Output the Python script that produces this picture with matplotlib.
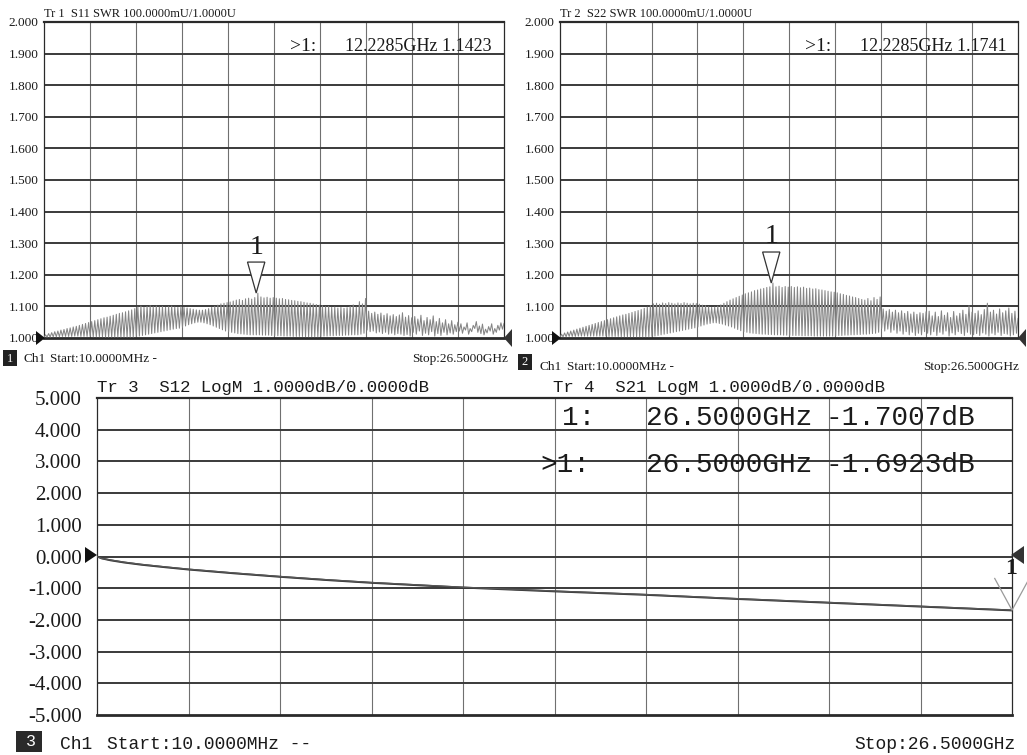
import numpy as np
import matplotlib
matplotlib.use("Agg")
import matplotlib.pyplot as plt
from matplotlib.patches import Polygon, Rectangle

# ---------------- data ----------------
F_START, F_STOP = 0.01, 26.5  # GHz

# S11 SWR ripple: trough / peak value of each ripple cycle (15 per division)
s11_troughs = [
    1.002, 1.003, 1.003, 1.004, 1.004, 1.004, 1.005, 1.005, 1.005, 1.005, 1.006, 1.006, 1.005, 1.005, 1.005,
    1.005, 1.004, 1.004, 1.004, 1.004, 1.003, 1.003, 1.003, 1.003, 1.003, 1.003, 1.003, 1.003, 1.003, 1.003,
    1.004, 1.006, 1.008, 1.010, 1.012, 1.014, 1.016, 1.018, 1.020, 1.022, 1.024, 1.026, 1.028, 1.030, 1.031,
    1.034, 1.038, 1.042, 1.045, 1.048, 1.050, 1.050, 1.048, 1.045, 1.042, 1.038, 1.034, 1.030, 1.026, 1.022,
    1.020, 1.018, 1.016, 1.014, 1.013, 1.012, 1.011, 1.010, 1.010, 1.010, 1.010, 1.009, 1.009, 1.009, 1.008,
    1.008, 1.007, 1.007, 1.006, 1.006, 1.006, 1.005, 1.005, 1.005, 1.005, 1.004, 1.004, 1.004, 1.004, 1.004,
    1.005, 1.006, 1.006, 1.007, 1.007, 1.008, 1.008, 1.008, 1.009, 1.009, 1.010, 1.010, 1.010, 1.012, 1.015,
    1.025, 1.020, 1.022, 1.016, 1.019, 1.014, 1.018, 1.012, 1.015, 1.010, 1.014, 1.012, 1.008, 1.011, 1.006,
    1.018, 1.012, 1.022, 1.008, 1.015, 1.010, 1.020, 1.006, 1.014, 1.008, 1.018, 1.010, 1.016, 1.012, 1.020,
    1.022, 1.015, 1.025, 1.012, 1.020, 1.030, 1.018, 1.014, 1.010, 1.016, 1.022, 1.012, 1.018, 1.025, 1.028,
]
s11_peaks = [
    1.010, 1.014, 1.017, 1.020, 1.022, 1.025, 1.027, 1.030, 1.032, 1.035, 1.037, 1.040, 1.043, 1.046, 1.049,
    1.052, 1.055, 1.058, 1.061, 1.064, 1.066, 1.069, 1.072, 1.075, 1.078, 1.080, 1.083, 1.086, 1.089, 1.093,
    1.098, 1.101, 1.097, 1.100, 1.102, 1.099, 1.101, 1.098, 1.100, 1.097, 1.099, 1.101, 1.098, 1.097, 1.099,
    1.097, 1.095, 1.093, 1.091, 1.089, 1.088, 1.088, 1.090, 1.093, 1.097, 1.100, 1.104, 1.108, 1.110, 1.112,
    1.114, 1.117, 1.120, 1.122, 1.119, 1.124, 1.126, 1.123, 1.128, 1.142, 1.130, 1.127, 1.129, 1.126, 1.128,
    1.126, 1.124, 1.125, 1.122, 1.121, 1.119, 1.118, 1.116, 1.115, 1.113, 1.111, 1.110, 1.108, 1.106, 1.104,
    1.102, 1.099, 1.100, 1.097, 1.098, 1.095, 1.097, 1.094, 1.096, 1.100, 1.105, 1.098, 1.115, 1.108, 1.125,
    1.085, 1.078, 1.082, 1.075, 1.079, 1.072, 1.077, 1.070, 1.074, 1.068, 1.073, 1.080, 1.066, 1.071, 1.064,
    1.068, 1.060, 1.072, 1.055, 1.065, 1.058, 1.070, 1.052, 1.062, 1.048, 1.058, 1.045, 1.055, 1.042, 1.050,
    1.045, 1.035, 1.048, 1.030, 1.040, 1.052, 1.038, 1.044, 1.028, 1.036, 1.045, 1.030, 1.040, 1.048, 1.046,
]

# S22 SWR ripple
s22_troughs = [
    1.003, 1.004, 1.004, 1.005, 1.005, 1.005, 1.006, 1.006, 1.006, 1.006, 1.006, 1.006, 1.006, 1.006, 1.006,
    1.006, 1.005, 1.005, 1.005, 1.005, 1.004, 1.004, 1.004, 1.004, 1.004, 1.004, 1.004, 1.004, 1.004, 1.004,
    1.005, 1.006, 1.008, 1.010, 1.012, 1.014, 1.016, 1.018, 1.020, 1.022, 1.024, 1.026, 1.028, 1.030, 1.032,
    1.035, 1.038, 1.041, 1.044, 1.046, 1.048, 1.048, 1.046, 1.044, 1.041, 1.038, 1.035, 1.031, 1.027, 1.023,
    1.020, 1.018, 1.016, 1.015, 1.014, 1.013, 1.012, 1.012, 1.011, 1.011, 1.010, 1.010, 1.010, 1.009, 1.009,
    1.009, 1.008, 1.008, 1.008, 1.007, 1.007, 1.007, 1.007, 1.006, 1.006, 1.006, 1.006, 1.006, 1.006, 1.006,
    1.007, 1.008, 1.008, 1.009, 1.009, 1.010, 1.010, 1.011, 1.011, 1.012, 1.012, 1.013, 1.014, 1.015, 1.018,
    1.030, 1.022, 1.028, 1.018, 1.025, 1.015, 1.022, 1.012, 1.020, 1.010, 1.018, 1.008, 1.015, 1.010, 1.020,
    1.015, 1.010, 1.020, 1.008, 1.018, 1.012, 1.022, 1.006, 1.016, 1.010, 1.020, 1.014, 1.008, 1.018, 1.012,
    1.010, 1.014, 1.008, 1.016, 1.012, 1.006, 1.015, 1.010, 1.018, 1.008, 1.014, 1.012, 1.006, 1.010, 1.015,
]
s22_peaks = [
    1.012, 1.016, 1.019, 1.022, 1.025, 1.028, 1.031, 1.034, 1.037, 1.040, 1.043, 1.046, 1.049, 1.052, 1.055,
    1.058, 1.061, 1.064, 1.067, 1.070, 1.073, 1.075, 1.078, 1.081, 1.084, 1.087, 1.090, 1.094, 1.098, 1.103,
    1.108, 1.110, 1.107, 1.111, 1.109, 1.112, 1.110, 1.108, 1.111, 1.109, 1.112, 1.110, 1.108, 1.110, 1.109,
    1.107, 1.104, 1.102, 1.099, 1.097, 1.098, 1.101, 1.105, 1.110, 1.115, 1.120, 1.124, 1.128, 1.132, 1.136,
    1.140, 1.143, 1.146, 1.150, 1.152, 1.155, 1.157, 1.160, 1.162, 1.174, 1.162, 1.164, 1.160, 1.163, 1.161,
    1.163, 1.160, 1.162, 1.159, 1.161, 1.157, 1.158, 1.155, 1.156, 1.153, 1.152, 1.150, 1.148, 1.146, 1.145,
    1.143, 1.140, 1.138, 1.135, 1.133, 1.130, 1.128, 1.125, 1.122, 1.120, 1.125, 1.118, 1.128, 1.122, 1.130,
    1.092, 1.085, 1.090, 1.082, 1.088, 1.080, 1.086, 1.078, 1.084, 1.076, 1.082, 1.075, 1.080, 1.078, 1.083,
    1.085, 1.070, 1.082, 1.068, 1.086, 1.072, 1.080, 1.065, 1.084, 1.070, 1.078, 1.088, 1.075, 1.102, 1.082,
    1.078, 1.086, 1.074, 1.090, 1.110, 1.082, 1.088, 1.076, 1.092, 1.080, 1.086, 1.095, 1.078, 1.085, 1.062,
]

# transmission traces (dB)
loss_freq = [0.01, 0.15, 0.4, 0.8, 1.3, 2.0, 2.65, 3.97, 5.3, 6.62, 7.95, 10.6, 13.25, 15.9, 18.55, 21.2, 23.85, 26.5]
s12_db = [0.0, -0.06, -0.12, -0.19, -0.26, -0.34, -0.41, -0.53, -0.64, -0.74, -0.83, -0.98, -1.10, -1.21, -1.34, -1.46, -1.58, -1.7007]
s21_db = [0.0, -0.06, -0.11, -0.18, -0.25, -0.33, -0.40, -0.52, -0.63, -0.73, -0.82, -0.97, -1.09, -1.20, -1.33, -1.45, -1.57, -1.6923]

# markers
mkr_swr_freq = 12.2285
s11_mkr_val = 1.1423
s22_mkr_val = 1.1741
mkr_loss_freq = 26.5
s12_mkr_val = -1.7007
s21_mkr_val = -1.6923

swr_ticks = [1.0, 1.1, 1.2, 1.3, 1.4, 1.5, 1.6, 1.7, 1.8, 1.9, 2.0]
db_ticks = [-5.0, -4.0, -3.0, -2.0, -1.0, 0.0, 1.0, 2.0, 3.0, 4.0, 5.0]

# ---------------- figure ----------------
W, H = 1027, 755
fig = plt.figure(figsize=(W / 100, H / 100), dpi=100)
fig.patch.set_facecolor("white")

SERIF = "Liberation Serif"
MONO = "Liberation Mono"


def fx(x):
    return x / W


def fy(y):
    return 1 - y / H


def add_axes_px(x0, y0, x1, y1):
    return fig.add_axes([fx(x0), fy(y1), (x1 - x0) / W, (y1 - y0) / H])


def ftext(x, y, s, size, family=SERIF, ha="left", va="baseline", color="#1a1a1a", **kw):
    fig.text(fx(x), fy(y), s, fontsize=size, family=family, ha=ha, va=va, color=color, **kw)


def fpoly(pts, fc, ec="none", lw=1.0):
    p = Polygon([(fx(a), fy(b)) for a, b in pts], closed=True, transform=fig.transFigure,
                facecolor=fc, edgecolor=ec, lw=lw)
    fig.patches.append(p)


def style(ax, ymin, ymax, yticks, fmt_family, fsize, pad):
    xt = np.linspace(F_START, F_STOP, 11)
    ax.set_xlim(F_START, F_STOP)
    ax.set_ylim(ymin, ymax)
    ax.set_xticks(xt)
    ax.set_xticklabels([])
    ax.set_yticks(yticks)
    ax.set_yticklabels([f"{v:.3f}" for v in yticks], family=fmt_family, fontsize=fsize, color="#1a1a1a")
    ax.tick_params(axis="both", length=0)
    ax.tick_params(axis="y", pad=pad)
    for x in xt[1:-1]:
        ax.axvline(x, color="#707070", lw=0.8, zorder=1)
    for y in yticks[1:-1]:
        ax.axhline(y, color="#3a3a3a", lw=1.4, zorder=1)
    ax.spines["top"].set_linewidth(1.6)
    ax.spines["bottom"].set_linewidth(2.0)
    ax.spines["left"].set_linewidth(0.9)
    ax.spines["right"].set_linewidth(0.9)
    for s in ax.spines.values():
        s.set_color("#2a2a2a")


def zigzag(troughs, peaks):
    vals = np.empty(2 * len(peaks))
    vals[0::2] = troughs
    vals[1::2] = peaks
    freqs = np.linspace(F_START, F_STOP, len(vals))
    return freqs, vals


def swr_marker(ax, f, v, hw=0.50, h=0.098):
    tri = Polygon([(f - hw, v + h), (f + hw, v + h), (f, v)], closed=True,
                  facecolor="white", edgecolor="#333333", lw=0.9, zorder=5)
    ax.add_patch(tri)
    ax.text(f, v + h + 0.008, "1", ha="center", va="bottom", fontsize=20, family=SERIF,
            color="#1a1a1a", zorder=6)


# ---- top-left: S11 SWR ----
ax1 = add_axes_px(44, 22, 504, 338)
style(ax1, 1.0, 2.0, swr_ticks, SERIF, 9.5, 4)
f, v = zigzag(s11_troughs, s11_peaks)
ax1.plot(f, v, color="#858585", lw=0.75, zorder=3)
swr_marker(ax1, mkr_swr_freq, s11_mkr_val)

# ---- top-right: S22 SWR ----
ax2 = add_axes_px(560, 22, 1018, 338)
style(ax2, 1.0, 2.0, swr_ticks, SERIF, 9.5, 4)
f, v = zigzag(s22_troughs, s22_peaks)
ax2.plot(f, v, color="#858585", lw=0.75, zorder=3)
swr_marker(ax2, mkr_swr_freq, s22_mkr_val)

# ---- bottom: S12 / S21 LogM ----
ax3 = add_axes_px(97, 398, 1012, 715)
style(ax3, -5.0, 5.0, db_ticks, SERIF, 15, 11)
ax3.plot(loss_freq, s12_db, color="#333333", lw=1.4, zorder=3)
ax3.plot(loss_freq, s21_db, color="#555555", lw=1.0, zorder=3)
# marker V at stop frequency
ax3.plot([mkr_loss_freq - 0.5, mkr_loss_freq, mkr_loss_freq + 0.45],
         [s21_mkr_val + 1.0, s21_mkr_val, s21_mkr_val + 0.9],
         color="#9a9a9a", lw=0.9, clip_on=False, zorder=5)

# ---------------- annotations ----------------
# headers
ftext(44, 17, "Tr 1  S11 SWR 100.0000mU/1.0000U", 9)
ftext(560, 17, "Tr 2  S22 SWR 100.0000mU/1.0000U", 9)
ftext(97, 392, "Tr 3  S12 LogM 1.0000dB/0.0000dB", 12.5, family=MONO)
ftext(553, 392, "Tr 4  S21 LogM 1.0000dB/0.0000dB", 12.5, family=MONO)

# marker readouts (top)
ftext(290, 51, ">1:", 14)
ftext(345, 51, f"{mkr_swr_freq:.4f}GHz {s11_mkr_val:.4f}", 13)
ftext(805, 51, ">1:", 14)
ftext(860, 51, f"{mkr_swr_freq:.4f}GHz {s22_mkr_val:.4f}", 13)

# marker readouts (bottom)
ftext(562, 425, "1:", 20, family=MONO)
ftext(646, 425, f"{mkr_loss_freq:.4f}GHz", 20, family=MONO)
ftext(826, 425, f"{s12_mkr_val:.4f}dB", 20, family=MONO)
ftext(540, 472, ">1:", 20, family=MONO)
ftext(646, 472, f"{mkr_loss_freq:.4f}GHz", 20, family=MONO)
ftext(826, 472, f"{s21_mkr_val:.4f}dB", 20, family=MONO)

# footers
fig.patches.append(Rectangle((fx(3), fy(366)), 14 / W, 16 / H, transform=fig.transFigure,
                             facecolor="#222222", edgecolor="none"))
ftext(10, 359, "1", 9, ha="center", va="center", color="white")
ftext(23, 362, "Ch1", 9.5)
ftext(50, 362, "Start:10.0000MHz -", 9.5)
ftext(508, 362, "Stop:26.5000GHz", 9.5, ha="right")

fig.patches.append(Rectangle((fx(518), fy(370)), 14 / W, 16 / H, transform=fig.transFigure,
                             facecolor="#222222", edgecolor="none"))
ftext(525, 362, "2", 9, ha="center", va="center", color="white")
ftext(540, 370, "Ch1", 9.5)
ftext(567, 370, "Start:10.0000MHz -", 9.5)
ftext(1019, 370, "Stop:26.5000GHz", 9.5, ha="right")

fig.patches.append(Rectangle((fx(16), fy(752)), 26 / W, 21 / H, transform=fig.transFigure,
                             facecolor="#2a2a2a", edgecolor="none"))
ftext(31, 741, "3", 12, ha="center", va="center", color="white", family=MONO)
ftext(60, 749, "Ch1", 13, family=MONO)
ftext(107, 749, "Start:10.0000MHz --", 13, family=MONO)
ftext(1016, 749, "Stop:26.5000GHz", 13, family=MONO, ha="right")

# reference-position triangles
fpoly([(36, 331), (36, 345), (45, 338)], "#111111")
fpoly([(512, 329), (512, 347), (504, 338)], "#333333")
fpoly([(552, 331), (552, 345), (561, 338)], "#111111")
fpoly([(1026, 329), (1026, 347), (1018, 338)], "#333333")
fpoly([(85, 547), (85, 563), (97, 555)], "#111111")
fpoly([(1024, 546), (1024, 564), (1011, 555)], "#333333")
ftext(1011, 569, "1", 17, ha="center", va="center", weight="bold")

fig.savefig("out.png", dpi=100, facecolor="white")
